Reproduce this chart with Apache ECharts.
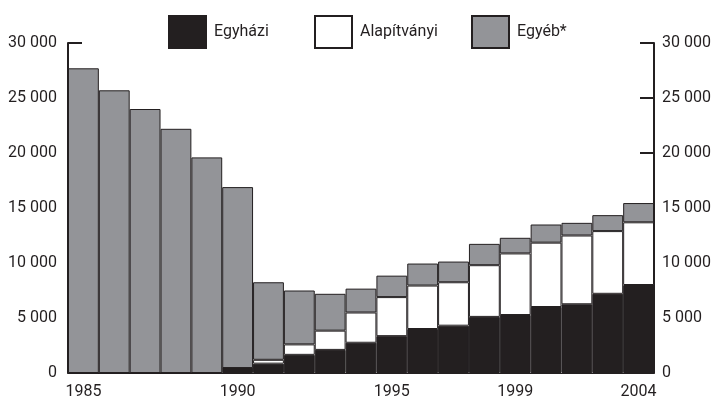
<!DOCTYPE html>
<html>
<head>
<meta charset="utf-8">
<script src="https://cdn.jsdelivr.net/npm/echarts@6/dist/echarts.min.js"></script>
<style>
html,body{margin:0;padding:0;background:#fff;}
#chart{width:716px;height:401px;}
</style>
</head>
<body>
<div id="chart"></div>
<script>
// évek (a 2003-as év hiányzik, az utolsó oszlop 2004)
var years=['1985','1986','1987','1988','1989','1990','1991','1992','1993','1994',
    '1995','1996','1997','1998','1999','2000','2001','2002','2004'];
var labelIdx=[0,5,10,14,18];
var egyhazi=[0,0,0,0,0,450,850,1650,2100,2750,3350,4000,4300,5100,5270,6000,6250,7200,8000];
var alapitvanyi=[0,0,0,0,0,0,350,950,1750,2750,3550,3950,3950,4700,5600,5850,6250,5700,5700];
var egyeb=[27700,25700,24000,22200,19600,16450,7050,4900,3350,2170,1950,2000,1880,1940,1420,1650,1150,1450,1750];

var FONT='Roboto,"Liberation Sans",sans-serif';
var INK='#231f20';

function fmt(v){
    return String(v).replace(/\B(?=(\d{3})+(?!\d))/g,' ');
}

function legendAt(name,left){
    return {
        data:[{name:name,icon:'rect'}],
        left:left,
        top:10,
        itemWidth:37,
        itemHeight:32,
        itemGap:0,
        textStyle:{fontFamily:FONT,fontSize:16,color:INK,padding:[0,0,0,3]}
    };
}

function yAxisOpt(pos,margin){
    return {
        type:'value',
        position:pos,
        min:0,
        max:30000,
        interval:5000,
        splitLine:{show:false},
        axisLine:{show:true,lineStyle:{color:INK,width:2}},
        axisTick:{show:true,inside:true,length:14,lineStyle:{color:INK,width:2}},
        axisLabel:{
            margin:margin,
            fontFamily:FONT,
            fontSize:16,
            color:INK,
            formatter:fmt
        }
    };
}

var option={
    animation:false,
    backgroundColor:'#fff',
    legend:[legendAt('Egyházi',163),legendAt('Alapítványi',309),legendAt('Egyéb*',466)],
    grid:{left:68,right:62,top:43,bottom:28,containLabel:false},
    xAxis:{
        type:'category',
        data:years,
        axisTick:{show:false},
        axisLine:{show:true,lineStyle:{color:INK,width:1}},
        axisLabel:{
            margin:11,
            fontFamily:FONT,
            fontSize:16,
            color:INK,
            interval:function(i){return labelIdx.indexOf(i)>=0;}
        }
    },
    yAxis:[yAxisOpt('left',11),yAxisOpt('right',8)],
    series:[
        {
            name:'Egyházi',
            type:'bar',
            stack:'osszes',
            barCategoryGap:0,
            itemStyle:{color:INK,borderColor:INK,borderWidth:1},
            data:egyhazi
        },
        {
            name:'Alapítványi',
            type:'bar',
            stack:'osszes',
            barCategoryGap:0,
            itemStyle:{color:'#ffffff',borderColor:INK,borderWidth:1},
            data:alapitvanyi
        },
        {
            name:'Egyéb*',
            type:'bar',
            stack:'osszes',
            barCategoryGap:0,
            itemStyle:{color:'#939498',borderColor:INK,borderWidth:1},
            data:egyeb
        }
    ]
};

var myChart=echarts.init(document.getElementById('chart'));
myChart.setOption(option);
</script>
</body>
</html>
